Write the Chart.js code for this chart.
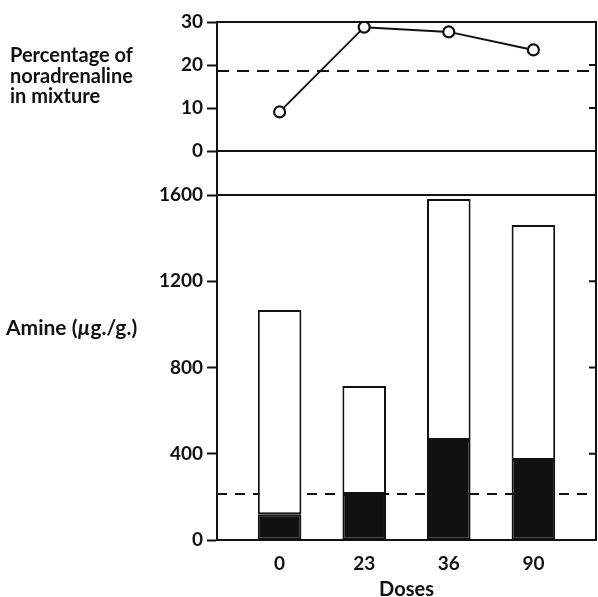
<!DOCTYPE html>
<html><head><meta charset="utf-8">
<script src="https://cdn.jsdelivr.net/npm/chart.js@4/dist/chart.umd.min.js"></script>
<style>
html,body{margin:0;padding:0;background:#fff;}
#wrap{position:relative;width:598px;height:597px;overflow:hidden;background:#fff;}
canvas{position:absolute;left:0;top:0;}
.lbl{position:absolute;font-family:Lato,"Open Sans",sans-serif;font-weight:700;color:#111;white-space:nowrap;}
</style></head><body>
<div id="wrap">
<canvas id="topc" width="598" height="597"></canvas>
<canvas id="botc" width="598" height="597"></canvas>
<div class="lbl" style="left:10px;top:44px;font-size:20px;line-height:20.7px;">Percentage of<br>noradrenaline<br>in mixture</div>
<div class="lbl" style="left:6px;top:316px;font-size:21px;line-height:21px;">Amine (<i>µ</i>g./g.)</div>
</div>
<script>
// ---- data ----
const doses = ['0', '23', '36', '90'];
const noradrenalinePct = [9.1, 28.8, 27.7, 23.5];
const pctReference = 18.6;
const pctTicks = [0, 10, 20, 30];
const noradrenaline = [120, 213, 464, 371];
const totalAmine = [1067, 714, 1582, 1461];
const amineReference = 213;
const amineTicks = [0, 400, 800, 1200, 1600];

const X_MIN = -0.74, X_MAX = 3.74;
const INK = '#111';
const FONT = {family: 'Lato, "Open Sans", sans-serif', size: 19, weight: 700};

const frame = {
  id: 'frame',
  afterDatasetsDraw(chart, args, opts) {
    const {ctx, chartArea: a} = chart;
    const y = chart.scales.y;
    ctx.save();
    ctx.strokeStyle = INK;
    ctx.lineWidth = 2;
    ctx.strokeRect(a.left, a.top, a.right - a.left, a.bottom - a.top);
    ctx.beginPath();
    (opts.lines || []).forEach(v => {
      const p = y.getPixelForValue(v);
      ctx.moveTo(a.left, p); ctx.lineTo(a.right, p);
    });
    (opts.rightTicks || []).forEach(v => {
      const p = y.getPixelForValue(v);
      ctx.moveTo(a.right, p); ctx.lineTo(a.right - 7, p);
    });
    ctx.stroke();
    ctx.restore();
  }
};

const yCommon = {
  afterFit: s => { s.width = 217; },
  grid: {drawOnChartArea: false, tickLength: 10, tickWidth: 2, tickColor: INK},
  border: {color: INK, width: 2},
  ticks: {padding: 4, color: INK, font: FONT, callback: v => String(v)}
};

new Chart(document.getElementById('topc'), {
  type: 'line',
  data: {
    datasets: [
      {
        data: noradrenalinePct.map((v, i) => ({x: i, y: v})),
        borderColor: INK, borderWidth: 2,
        pointRadius: 5.5, pointBorderWidth: 2.2,
        pointBackgroundColor: '#fff', pointBorderColor: INK,
        order: 1
      },
      {
        data: [{x: X_MIN, y: pctReference}, {x: X_MAX, y: pctReference}],
        borderColor: INK, borderWidth: 2, borderDash: [12, 8],
        pointRadius: 0, order: 2
      }
    ]
  },
  options: {
    responsive: false, animation: false, devicePixelRatio: 1,
    layout: {autoPadding: false, padding: {top: 22, bottom: 597 - 195, left: 0, right: 2}},
    plugins: {legend: {display: false}, tooltip: {enabled: false},
      frame: {lines: [0], rightTicks: [10, 20]}},
    scales: {
      x: {type: 'linear', min: X_MIN, max: X_MAX, display: false, offset: false},
      y: Object.assign({}, yCommon, {
        min: -10.23, max: 30,
        afterBuildTicks: s => { s.ticks = pctTicks.map(v => ({value: v})); }
      })
    }
  },
  plugins: [frame]
});

new Chart(document.getElementById('botc'), {
  type: 'line',
  data: {
    datasets: [
      {
        type: 'bar', label: 'Noradrenaline',
        data: noradrenaline.map((v, i) => ({x: i, y: v})),
        backgroundColor: INK, borderColor: INK, borderWidth: 2,
        borderSkipped: false, stack: 'amine', order: 1,
        barPercentage: 0.515, categoryPercentage: 1
      },
      {
        type: 'bar', label: 'Adrenaline',
        data: totalAmine.map((v, i) => ({x: i, y: v - noradrenaline[i]})),
        backgroundColor: '#fff', borderColor: INK, borderWidth: 2,
        borderSkipped: false, stack: 'amine', order: 1,
        barPercentage: 0.515, categoryPercentage: 1
      },
      {
        type: 'line', label: 'ref',
        data: [{x: X_MIN, y: amineReference}, {x: X_MAX, y: amineReference}],
        borderColor: INK, borderWidth: 2, borderDash: [10, 8],
        pointRadius: 0, order: 3, stack: 'ref'
      }
    ]
  },
  options: {
    responsive: false, animation: false, devicePixelRatio: 1,
    layout: {autoPadding: false, padding: {top: 195, bottom: 0, left: 0, right: 2}},
    plugins: {legend: {display: false}, tooltip: {enabled: false},
      frame: {rightTicks: [400, 800, 1200]}},
    scales: {
      x: {
        type: 'linear', min: X_MIN, max: X_MAX, offset: false,
        afterBuildTicks: s => { s.ticks = doses.map((d, i) => ({value: i})); },
        afterFit: s => { s.height = 57; },
        grid: {display: false, drawTicks: false},
        border: {color: INK, width: 2},
        ticks: {padding: 12, color: INK, font: FONT, callback: v => doses[v]},
        title: {display: true, text: 'Doses', color: INK,
          font: Object.assign({}, FONT, {size: 20, lineHeight: 0.7}),
          padding: {top: 0, bottom: 0}}
      },
      y: Object.assign({}, yCommon, {
        stacked: true, min: 0, max: 1600,
        afterBuildTicks: s => { s.ticks = amineTicks.map(v => ({value: v})); }
      })
    }
  },
  plugins: [frame]
});
</script>
</body></html>
